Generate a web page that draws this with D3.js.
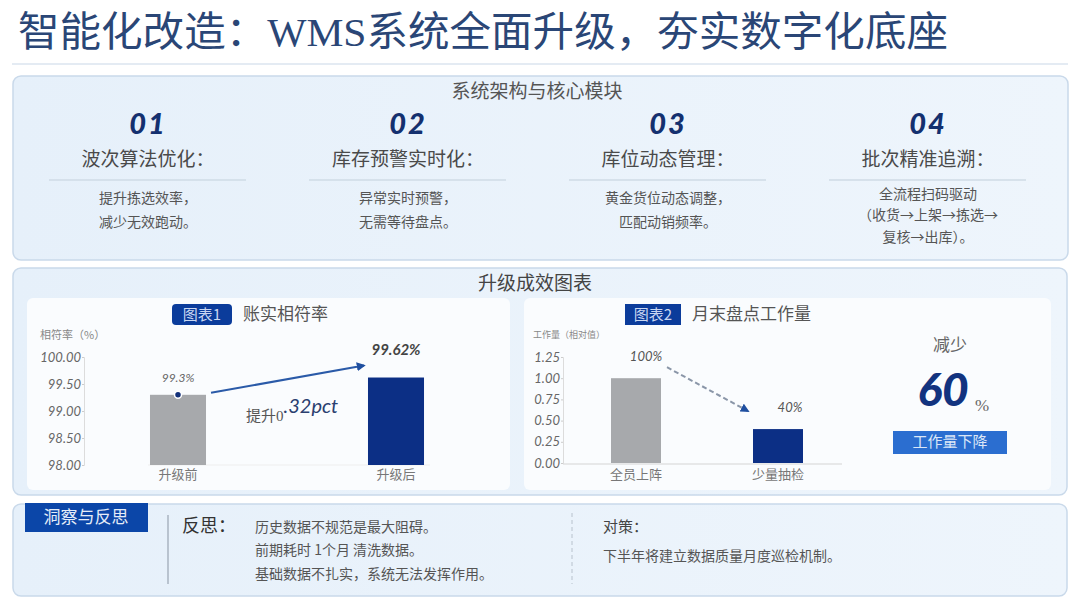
<!DOCTYPE html>
<html>
<head>
<meta charset="utf-8">
<script src="https://cdn.jsdelivr.net/npm/d3@7"></script>
<style>
  body { margin: 0; background: #fff; }
  svg { display: block; }
  .cjk { font-family: "Noto Sans CJK SC", sans-serif; }
  .num { font-family: Lato, "DejaVu Sans", sans-serif; font-style: italic; }
</style>
</head>
<body>
<div id="chart"></div>
<script>
// modules
const modNums = ['01', '02', '03', '04'];
const modTitles = ['波次算法优化：', '库存预警实时化：', '库位动态管理：', '批次精准追溯：'];
const modDescs = [
    ['提升拣选效率，', '减少无效跑动。'],
    ['异常实时预警，', '无需等待盘点。'],
    ['黄金货位动态调整，', '匹配动销频率。'],
    ['全流程扫码驱动', '（收货→上架→拣选→', '复核→出库）。']
];
// chart 1
const rateCats = ['升级前', '升级后'];
const rateVals = [99.3, 99.62];
const rateLabels = ['99.3%', '99.62%'];
const rateTicks = [98.0, 98.5, 99.0, 99.5, 100.0];
// chart 2
const workCats = ['全员上阵', '少量抽检'];
const workVals = [1.0, 0.4];
const workLabels = ['100%', '40%'];
const workTicks = [0, 0.25, 0.5, 0.75, 1.0, 1.25];
// insight
const reflectLines = ['历史数据不规范是最大阻碍。', '前期耗时 1个月 清洗数据。', '基础数据不扎实，系统无法发挥作用。'];
const measureLines = ['下半年将建立数据质量月度巡检机制。'];

const W = 1080, H = 608;
const navy = '#0c2f85', grayBar = '#a7a9ac', txt = '#555';

const svg = d3.select('#chart').append('svg')
    .attr('width', W).attr('height', H)
    .attr('viewBox', `0 0 ${W} ${H}`);

const defs = svg.append('defs');
const grad = defs.append('linearGradient').attr('id', 'cardBg')
    .attr('x1', 0).attr('y1', 0).attr('x2', 1).attr('y2', 0);
grad.append('stop').attr('offset', '0%').attr('stop-color', '#e6f0fa');
grad.append('stop').attr('offset', '100%').attr('stop-color', '#eef5fc');
defs.append('marker').attr('id', 'arrowBlue')
    .attr('viewBox', '0 0 10 10').attr('refX', 8).attr('refY', 5)
    .attr('markerWidth', 4.5).attr('markerHeight', 4.5).attr('orient', 'auto')
    .append('path').attr('d', 'M0,0L10,5L0,10z').attr('fill', '#1f4fa0');

// title
svg.append('text')
    .attr('x', 18).attr('y', 46)
    .attr('font-family', '"Liberation Serif", "Noto Sans CJK SC", serif')
    .attr('font-size', 41).attr('fill', '#2a4676')
    .attr('textLength', 930).attr('lengthAdjust', 'spacingAndGlyphs')
    .text('智能化改造：WMS系统全面升级，夯实数字化底座');
svg.append('line').attr('x1', 12).attr('x2', 1068).attr('y1', 64).attr('y2', 64)
    .attr('stroke', '#dbe5ef').attr('stroke-width', 1.5);

function card(x, y, w, h) {
    svg.append('rect').attr('x', x).attr('y', y).attr('width', w).attr('height', h)
        .attr('rx', 8).attr('fill', 'url(#cardBg)')
        .attr('stroke', '#c9d9ea').attr('stroke-width', 1.5);
}

// ---- card 1: modules
card(13, 76, 1055, 184);
svg.append('text').attr('class', 'cjk').attr('x', 537).attr('y', 98)
    .attr('text-anchor', 'middle').attr('font-size', 19).attr('fill', '#555')
    .text('系统架构与核心模块');

const colX = d3.scalePoint().domain(modNums).range([148, 928]);
const mod = svg.append('g').selectAll('g').data(modNums).enter().append('g')
    .attr('transform', d => `translate(${colX(d)},0)`);
mod.append('text').attr('class', 'num')
    .attr('y', 134).attr('text-anchor', 'middle')
    .attr('font-size', 29).attr('font-weight', 900).attr('fill', '#14306f')
    .attr('letter-spacing', 2)
    .text(d => d);
mod.append('text').attr('class', 'cjk')
    .attr('y', 166).attr('text-anchor', 'middle')
    .attr('font-size', 19).attr('fill', '#4a4a4a')
    .text((d, i) => modTitles[i]);
mod.append('line').attr('x1', -99).attr('x2', 98).attr('y1', 180).attr('y2', 180)
    .attr('stroke', '#cfdbe6').attr('stroke-width', 1.5);
mod.each(function (d, i) {
    const lines = modDescs[i];
    const gap = lines.length > 2 ? 21.5 : 24;
    const y0 = lines.length > 2 ? 194 : 198;
    d3.select(this).selectAll('text.desc').data(lines).enter().append('text')
        .attr('class', 'cjk desc')
        .attr('y', (l, j) => y0 + j * gap)
        .attr('dy', '0.35em').attr('text-anchor', 'middle')
        .attr('font-size', 14).attr('fill', txt)
        .text(l => l);
});

// ---- card 2: charts
card(13, 268, 1054, 227);
svg.append('text').attr('class', 'cjk').attr('x', 535).attr('y', 290)
    .attr('text-anchor', 'middle').attr('font-size', 19).attr('fill', '#444')
    .text('升级成效图表');

svg.append('rect').attr('x', 27).attr('y', 298).attr('width', 483).attr('height', 192)
    .attr('rx', 6).attr('fill', '#fafcfe');
svg.append('rect').attr('x', 524).attr('y', 298).attr('width', 527).attr('height', 192)
    .attr('rx', 6).attr('fill', '#fafcfe');

function chartTitle(bx, bw, rx, badge, title) {
    svg.append('rect').attr('x', bx).attr('y', 304).attr('width', bw).attr('height', 21)
        .attr('rx', rx).attr('fill', '#0b3c9b');
    svg.append('text').attr('class', 'cjk').attr('x', bx + bw / 2).attr('y', 315)
        .attr('dy', '0.35em').attr('text-anchor', 'middle')
        .attr('font-size', 15).attr('fill', '#c9d7f2').text(badge);
    svg.append('text').attr('class', 'cjk').attr('x', bx + bw + 11).attr('y', 314)
        .attr('dy', '0.35em').attr('font-size', 17).attr('fill', '#555').text(title);
}

// chart 1
chartTitle(172, 60, 4, '图表1', '账实相符率');
svg.append('text').attr('class', 'cjk').attr('x', 40).attr('y', 335)
    .attr('dy', '0.35em').attr('font-size', 11).attr('fill', '#888').text('相符率（%）');

const x1 = d3.scaleBand().domain(rateCats).range([69, 505])
    .paddingInner(0.743).paddingOuter(0.3715);
const y1 = d3.scaleLinear().domain([98, 100]).range([465, 357]);

const ax1 = svg.append('g').attr('transform', 'translate(84,0)')
    .call(d3.axisLeft(y1).tickValues(rateTicks).tickSize(2).tickPadding(1)
        .tickFormat(d3.format('.2f')));
ax1.select('.domain').attr('stroke', '#dcdcdc');
ax1.selectAll('.tick line').attr('stroke', '#ccc');
ax1.selectAll('.tick text').attr('class', 'num').attr('font-size', 13).attr('fill', '#666');

svg.append('line').attr('x1', 148).attr('x2', 430).attr('y1', 465).attr('y2', 465)
    .attr('stroke', '#eee');
svg.append('g').selectAll('rect').data(rateVals).enter().append('rect')
    .attr('x', (d, i) => x1(rateCats[i]))
    .attr('y', d => y1(d))
    .attr('width', x1.bandwidth())
    .attr('height', d => y1(98) - y1(d))
    .attr('fill', (d, i) => i === 0 ? grayBar : navy);
svg.append('g').selectAll('text').data(rateCats).enter().append('text')
    .attr('class', 'cjk')
    .attr('x', d => x1(d) + x1.bandwidth() / 2).attr('y', 474)
    .attr('dy', '0.35em').attr('text-anchor', 'middle')
    .attr('font-size', 13).attr('fill', '#777').text(d => d);

svg.append('circle')
    .attr('cx', x1(rateCats[0]) + x1.bandwidth() / 2).attr('cy', y1(rateVals[0]))
    .attr('r', 3.5).attr('fill', '#12307a').attr('stroke', '#fff').attr('stroke-width', 1.5);
svg.append('text').attr('class', 'num')
    .attr('x', x1(rateCats[0]) + x1.bandwidth() / 2).attr('y', y1(rateVals[0]) - 17)
    .attr('dy', '0.35em').attr('text-anchor', 'middle')
    .attr('font-size', 12).attr('fill', '#666').text(rateLabels[0]);
svg.append('text').attr('class', 'num')
    .attr('x', x1(rateCats[1]) + x1.bandwidth() / 2).attr('y', y1(rateVals[1]) - 28)
    .attr('dy', '0.35em').attr('text-anchor', 'middle')
    .attr('font-size', 15).attr('font-weight', 700).attr('fill', '#444').text(rateLabels[1]);

svg.append('line')
    .attr('x1', x1(rateCats[0]) + x1.bandwidth() + 5).attr('y1', y1(rateVals[0]) - 2)
    .attr('x2', x1(rateCats[1]) - 4).attr('y2', y1(rateVals[1]) - 12)
    .attr('stroke', '#2a5aa8').attr('stroke-width', 2)
    .attr('marker-end', 'url(#arrowBlue)');

const lift = svg.append('text').attr('x', 246).attr('y', 421);
lift.append('tspan').attr('font-family', '"Liberation Serif", "Noto Sans CJK SC", serif')
    .attr('font-size', 15).attr('fill', '#555').text('提升0');
lift.append('tspan').attr('class', 'num').attr('dy', -8)
    .attr('font-size', 20).attr('fill', '#2b3f70').text('.32pct');

// chart 2
chartTitle(625, 56, 0, '图表2', '月末盘点工作量');
svg.append('text').attr('class', 'cjk').attr('x', 533).attr('y', 335)
    .attr('dy', '0.35em').attr('font-size', 9).attr('fill', '#888').text('工作量（相对值）');

const x2 = d3.scaleBand().domain(workCats).range([565, 849])
    .paddingInner(0.648).paddingOuter(0.324);
const y2 = d3.scaleLinear().domain([0, 1.25]).range([463, 357]);

const ax2 = svg.append('g').attr('transform', 'translate(563,0)')
    .call(d3.axisLeft(y2).tickValues(workTicks).tickSize(2).tickPadding(1)
        .tickFormat(d3.format('.2f')));
ax2.select('.domain').attr('stroke', '#dcdcdc');
ax2.selectAll('.tick line').attr('stroke', '#ccc');
ax2.selectAll('.tick text').attr('class', 'num').attr('font-size', 13).attr('fill', '#666');

svg.append('line').attr('x1', 563).attr('x2', 842).attr('y1', 464).attr('y2', 464)
    .attr('stroke', '#d4d4d4');
svg.append('g').selectAll('rect').data(workVals).enter().append('rect')
    .attr('x', (d, i) => x2(workCats[i]))
    .attr('y', d => y2(d))
    .attr('width', x2.bandwidth())
    .attr('height', d => y2(0) - y2(d))
    .attr('fill', (d, i) => i === 0 ? grayBar : navy);
svg.append('g').selectAll('text').data(workCats).enter().append('text')
    .attr('class', 'cjk')
    .attr('x', d => x2(d) + x2.bandwidth() / 2).attr('y', 474)
    .attr('dy', '0.35em').attr('text-anchor', 'middle')
    .attr('font-size', 13).attr('fill', '#777').text(d => d);
svg.append('g').selectAll('text').data(workVals).enter().append('text')
    .attr('class', 'num')
    .attr('x', (d, i) => x2(workCats[i]) + x2.bandwidth() / 2 + (i === 0 ? 10 : 12))
    .attr('y', d => y2(d) - 22)
    .attr('dy', '0.35em').attr('text-anchor', 'middle')
    .attr('font-size', 13).attr('fill', '#555').text((d, i) => workLabels[i]);

svg.append('line')
    .attr('x1', x2(workCats[0]) + x2.bandwidth() + 6).attr('y1', y2(workVals[0]) - 11)
    .attr('x2', x2(workCats[1]) - 5).attr('y2', y2(workVals[1]) - 18)
    .attr('stroke', '#8a96a8').attr('stroke-width', 2).attr('stroke-dasharray', '5,3')
    .attr('marker-end', 'url(#arrowBlue)');

// 60% callout
svg.append('text').attr('class', 'cjk').attr('x', 950).attr('y', 345)
    .attr('dy', '0.35em').attr('text-anchor', 'middle')
    .attr('font-size', 17).attr('fill', '#666').text('减少');
svg.append('text').attr('class', 'num').attr('x', 943).attr('y', 406)
    .attr('text-anchor', 'middle').attr('font-size', 46).attr('font-weight', 900)
    .attr('fill', '#12337f').text('60');
svg.append('text').attr('x', 982).attr('y', 411)
    .attr('font-family', '"Liberation Serif", serif').attr('text-anchor', 'middle')
    .attr('font-size', 17).attr('fill', '#666').text('%');
svg.append('rect').attr('x', 893).attr('y', 431).attr('width', 114).attr('height', 23)
    .attr('fill', '#2b6ed0');
svg.append('text').attr('class', 'cjk').attr('x', 950).attr('y', 442)
    .attr('dy', '0.35em').attr('text-anchor', 'middle')
    .attr('font-size', 15).attr('fill', '#dbe6f7').text('工作量下降');

// ---- card 3: insights
card(13, 504, 1054, 92);
svg.append('rect').attr('x', 25).attr('y', 503).attr('width', 123).attr('height', 29)
    .attr('fill', '#0b46a8');
svg.append('text').attr('class', 'cjk').attr('x', 86).attr('y', 517)
    .attr('dy', '0.35em').attr('text-anchor', 'middle')
    .attr('font-size', 17).attr('fill', '#e4ecf8').text('洞察与反思');
svg.append('line').attr('x1', 168).attr('x2', 168).attr('y1', 515).attr('y2', 584)
    .attr('stroke', '#9aa5b3').attr('stroke-width', 1.2);
svg.append('text').attr('class', 'cjk').attr('x', 182).attr('y', 526)
    .attr('dy', '0.35em').attr('font-size', 18).attr('fill', '#333').text('反思：');
svg.append('g').selectAll('text').data(reflectLines).enter().append('text')
    .attr('class', 'cjk').attr('x', 255).attr('y', (d, i) => 527 + i * 23.5)
    .attr('dy', '0.35em').attr('font-size', 14).attr('fill', txt).text(d => d);
svg.append('line').attr('x1', 572).attr('x2', 572).attr('y1', 513).attr('y2', 584)
    .attr('stroke', '#b8c2cd').attr('stroke-dasharray', '4,3');
svg.append('text').attr('class', 'cjk').attr('x', 603).attr('y', 527)
    .attr('dy', '0.35em').attr('font-size', 15).attr('fill', '#444').text('对策：');
svg.append('g').selectAll('text').data(measureLines).enter().append('text')
    .attr('class', 'cjk').attr('x', 603).attr('y', (d, i) => 556 + i * 23.5)
    .attr('dy', '0.35em').attr('font-size', 14).attr('fill', txt).text(d => d);
</script>
</body>
</html>
